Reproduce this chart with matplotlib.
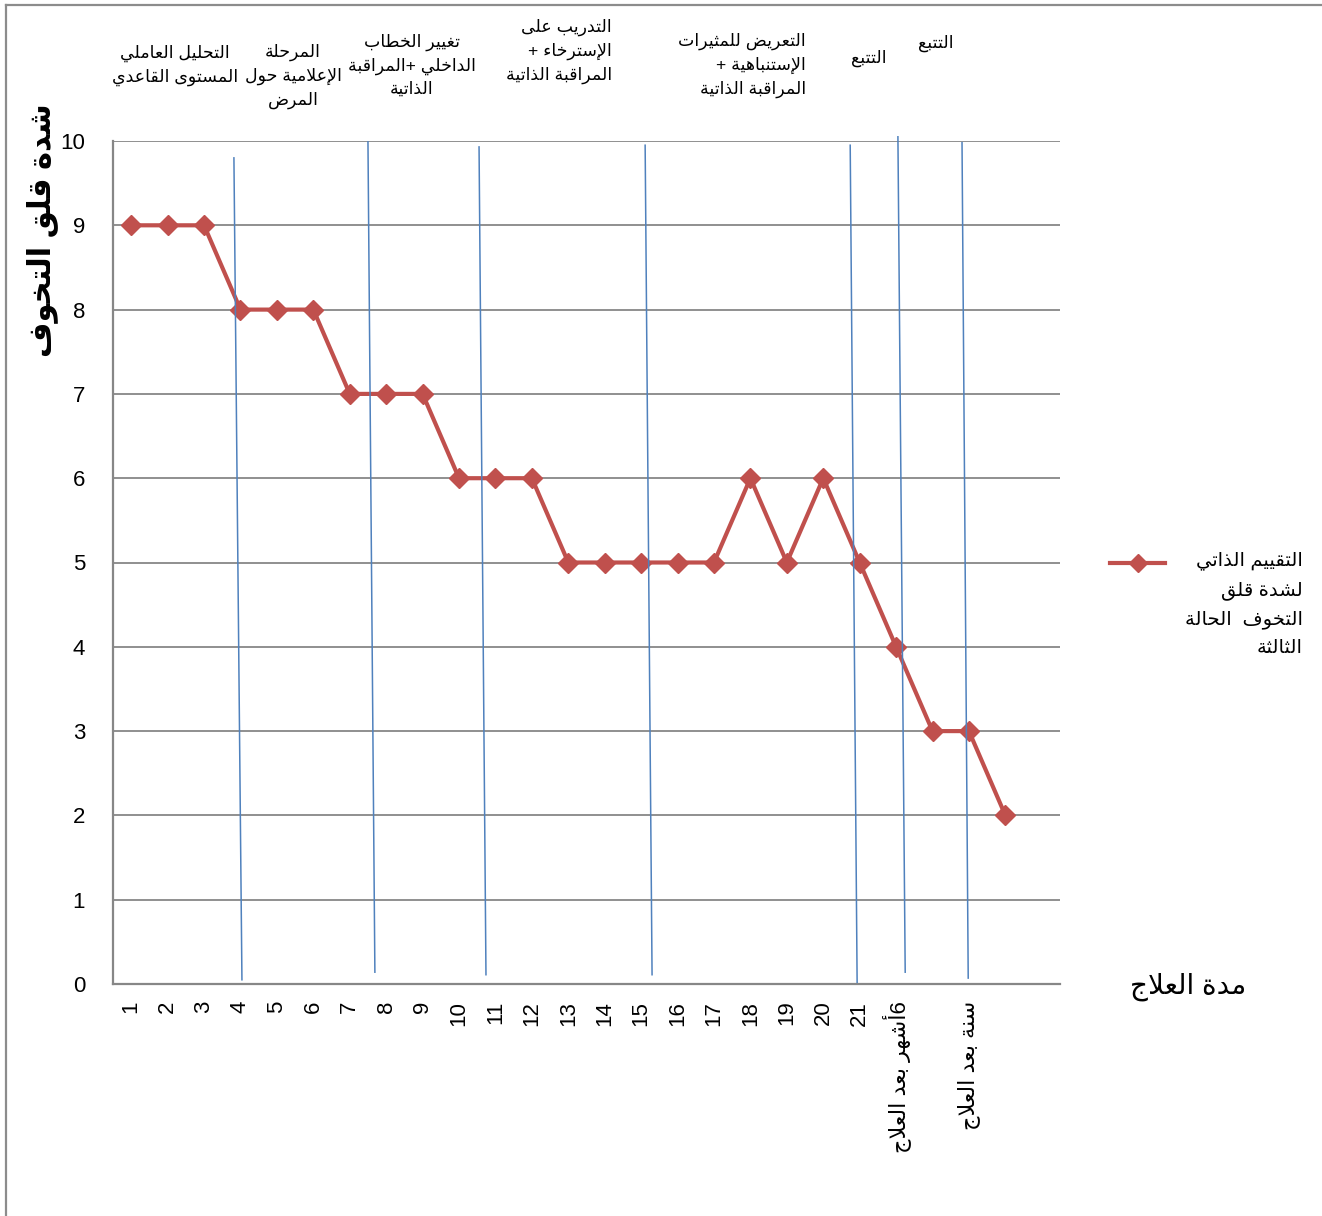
"""
    التقييم الذاتي لشدة قلق التخوف - الحالة الثالثة
"""
import re
import matplotlib
matplotlib.use('Agg')
import matplotlib.pyplot as plt
from matplotlib.lines import Line2D

plt.rcParams['font.family'] = ['Liberation Sans', 'DejaVu Sans']

# القيم
sessions = list(range(1, 26))
scores = [9, 9, 9, 8, 8, 8, 7, 7, 7, 6, 6, 6, 5, 5, 5, 5, 5, 6, 5, 6, 5, 4, 3, 3, 2]
tick_labels = [str(i) for i in range(1, 22)] + ['6أشهر بعد العلاج', '', 'سنة بعد العلاج', '', '']
y_ticks = list(range(0, 11))

# الخطوط الفاصلة بين المراحل: (x أعلى, x أسفل, y أعلى, y أسفل)
phase_lines = [
    (3.82, 4.04, 9.80, 0.05),
    (7.50, 7.69, 9.99, 0.14),
    (10.55, 10.74, 9.93, 0.11),
    (15.11, 15.30, 9.95, 0.11),
    (20.74, 20.93, 9.95, 0.02),
    (22.05, 22.25, 10.05, 0.14),
    (23.81, 23.98, 9.98, 0.07),
]

phase_titles = [
    ('التحليل العاملي\nالمستوى القاعدي', 175, 45, 'center'),
    ('المرحلة\nالإعلامية حول\nالمرض', 293, 44, 'center'),
    ('تغيير الخطاب\nالداخلي +المراقبة\nالذاتية', 412, 34, 'center'),
    ('التدريب على\nالإسترخاء +\nالمراقبة الذاتية', 612, 19, 'right'),
    ('التعريض للمثيرات\nالإستنباهية +\nالمراقبة الذاتية', 806, 33, 'right'),
    ('التتبع', 886, 50, 'right'),
    ('التتبع', 953, 35, 'right'),
]

legend_label = 'التقييم الذاتي\nلشدة قلق\nالتخوف  الحالة\nالثالثة'

# أشكال الحروف العربية (معزول، نهائي، بدائي، وسطي)
AR_BASE = {
    'ء': (0xFE80, 1), 'آ': (0xFE81, 2), 'أ': (0xFE83, 2), 'ؤ': (0xFE85, 2),
    'إ': (0xFE87, 2), 'ئ': (0xFE89, 4), 'ا': (0xFE8D, 2), 'ب': (0xFE8F, 4),
    'ة': (0xFE93, 2), 'ت': (0xFE95, 4), 'ث': (0xFE99, 4), 'ج': (0xFE9D, 4),
    'ح': (0xFEA1, 4), 'خ': (0xFEA5, 4), 'د': (0xFEA9, 2), 'ذ': (0xFEAB, 2),
    'ر': (0xFEAD, 2), 'ز': (0xFEAF, 2), 'س': (0xFEB1, 4), 'ش': (0xFEB5, 4),
    'ص': (0xFEB9, 4), 'ض': (0xFEBD, 4), 'ط': (0xFEC1, 4), 'ظ': (0xFEC5, 4),
    'ع': (0xFEC9, 4), 'غ': (0xFECD, 4), 'ف': (0xFED1, 4), 'ق': (0xFED5, 4),
    'ك': (0xFED9, 4), 'ل': (0xFEDD, 4), 'م': (0xFEE1, 4), 'ن': (0xFEE5, 4),
    'ه': (0xFEE9, 4), 'و': (0xFEED, 2), 'ى': (0xFEEF, 2), 'ي': (0xFEF1, 4),
}
LAM_ALEF = {'آ': 0xFEF5, 'أ': 0xFEF7, 'إ': 0xFEF9, 'ا': 0xFEFB}


def shape_line(s):
    toks = []
    i = 0
    while i < len(s):
        if s[i] == 'ل' and i + 1 < len(s) and s[i + 1] in LAM_ALEF:
            toks.append(('LA', s[i + 1]))
            i += 2
        else:
            toks.append((s[i], None))
            i += 1

    def joins_next(t):
        return t[0] in AR_BASE and AR_BASE[t[0]][1] == 4

    def joins_prev(t):
        return t[0] == 'LA' or (t[0] in AR_BASE and AR_BASE[t[0]][1] > 1)

    out = []
    for k, t in enumerate(toks):
        prev = toks[k - 1] if k > 0 else None
        nxt = toks[k + 1] if k + 1 < len(toks) else None
        p = prev is not None and joins_next(prev) and joins_prev(t)
        n = nxt is not None and joins_next(t) and joins_prev(nxt)
        if t[0] == 'LA':
            out.append(chr(LAM_ALEF[t[1]] + (1 if p else 0)))
        elif t[0] in AR_BASE:
            base = AR_BASE[t[0]][0]
            idx = 3 if (p and n) else 2 if n else 1 if p else 0
            out.append(chr(base + idx))
        else:
            out.append(t[0])
    # اتجاه من اليمين لليسار، مع إبقاء الأرقام كما هي
    vis = ''.join(out)[::-1]
    return re.sub(r'[0-9]+', lambda m: m.group(0)[::-1], vis)


def ar(s):
    return '\n'.join(shape_line(line) for line in s.split('\n'))


W, H = 1322, 1216


def fx(px):
    return px / W


def fy(py):
    return 1 - py / H


def main():
    fig = plt.figure(figsize=(W / 100, H / 100), dpi=100)
    ax = fig.add_axes([fx(113), fy(984), fx(1060) - fx(113), fy(141) - fy(984)])

    grid_c = '#878787'
    ax.plot(sessions, scores, color='#C0504D', linewidth=3, marker='D',
            markersize=10, markeredgecolor='#C0504D', zorder=3, clip_on=False)

    for xt, xb, yt, yb in phase_lines:
        ax.plot([xt, xb], [yt, yb], color='#4F81BD', linewidth=1.1, zorder=4, clip_on=False)

    ax.set_xlim(0.5, 26.5)
    ax.set_ylim(0, 10)
    ax.set_yticks(y_ticks)
    ax.set_xticks(range(1, 27))
    ax.set_xticklabels([ar(t) for t in tick_labels], rotation=90, va='top', ha='center')
    ax.tick_params(axis='both', length=0, labelsize=16, colors='black')
    ax.tick_params(axis='x', pad=12)
    ax.tick_params(axis='y', pad=20)
    ax.yaxis.grid(True, color=grid_c, linewidth=1.3)
    ax.set_axisbelow(True)
    for side in ['top', 'right']:
        ax.spines[side].set_visible(False)
    for side in ['left', 'bottom']:
        ax.spines[side].set_color(grid_c)
        ax.spines[side].set_linewidth(1.6)

    # عناوين المراحل
    for text, px, py, ha in phase_titles:
        fig.text(fx(px), fy(py), ar(text), ha=ha, va='top', multialignment=ha,
                 fontsize=12.5, linespacing=1.5)

    fig.text(fx(42), fy(230), ar('شدة قلق التخوف'), rotation=90, ha='center',
             va='center', fontsize=22, fontweight='bold')
    fig.text(fx(1188), fy(987), ar('مدة العلاج'), ha='center', va='center', fontsize=20)

    # مفتاح الرسم
    fig.add_artist(Line2D([fx(1110), fx(1165)], [fy(563), fy(563)], color='#C0504D',
                          linewidth=3))
    fig.add_artist(Line2D([fx(1138)], [fy(563)], color='#C0504D', marker='D',
                          markersize=9, linestyle='none'))
    fig.text(fx(1303), fy(551), ar(legend_label), ha='right', va='top',
             multialignment='right', fontsize=14, linespacing=1.8)

    # إطار الرسم
    fig.add_artist(Line2D([fx(6), fx(6)], [0, fy(5)], color='#8c8c8c', linewidth=1.6))
    fig.add_artist(Line2D([fx(6), 1], [fy(5), fy(5)], color='#8c8c8c', linewidth=1.6))

    fig.savefig('out.png', dpi=100)


if __name__ == '__main__':
    main()
